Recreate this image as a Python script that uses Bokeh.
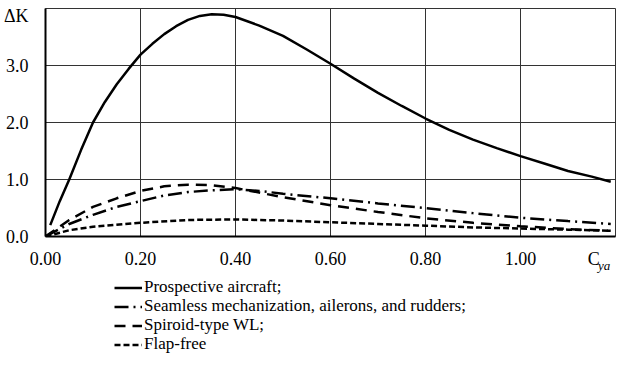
from bokeh.plotting import figure
from bokeh.layouts import column
from bokeh.models import Legend, LegendItem, FixedTicker, Range1d, LinearAxis
from bokeh.embed import file_html
from bokeh.resources import INLINE

# Data
x_prosp = [0.01, 0.03, 0.05, 0.075, 0.10, 0.125, 0.15, 0.175, 0.20, 0.225, 0.25, 0.275, 0.30, 0.325, 0.35,
           0.375, 0.40, 0.45, 0.50, 0.55, 0.60, 0.65, 0.70, 0.75, 0.80, 0.85, 0.90, 0.95, 1.00, 1.05, 1.10, 1.15, 1.19]
y_prosp = [0.20, 0.62, 1.00, 1.52, 2.00, 2.36, 2.67, 2.94, 3.19, 3.38, 3.55, 3.69, 3.80, 3.87, 3.90,
           3.89, 3.85, 3.70, 3.52, 3.28, 3.03, 2.77, 2.52, 2.29, 2.07, 1.87, 1.70, 1.55, 1.41, 1.28, 1.15, 1.05, 0.96]

x_seam = [0.00, 0.05, 0.10, 0.15, 0.20, 0.25, 0.30, 0.35, 0.40, 0.45, 0.50, 0.60, 0.70, 0.80, 0.90, 1.00, 1.10, 1.19]
y_seam = [0.00, 0.22, 0.38, 0.52, 0.62, 0.72, 0.78, 0.81, 0.83, 0.80, 0.75, 0.67, 0.58, 0.50, 0.41, 0.33, 0.27, 0.22]

x_spir = [0.00, 0.05, 0.10, 0.15, 0.20, 0.25, 0.30, 0.35, 0.40, 0.45, 0.50, 0.60, 0.70, 0.80, 0.90, 1.00, 1.10, 1.19]
y_spir = [0.00, 0.29, 0.52, 0.67, 0.80, 0.88, 0.91, 0.90, 0.85, 0.77, 0.69, 0.55, 0.43, 0.32, 0.24, 0.18, 0.13, 0.10]

x_flap = [0.00, 0.05, 0.10, 0.20, 0.30, 0.40, 0.50, 0.60, 0.70, 0.80, 0.90, 1.00, 1.10, 1.19]
y_flap = [0.00, 0.11, 0.17, 0.24, 0.29, 0.30, 0.28, 0.25, 0.22, 0.19, 0.16, 0.14, 0.12, 0.10]

x_ticks = [0.0, 0.2, 0.4, 0.6, 0.8, 1.0]
x_tick_labels = ["0.00", "0.20", "0.40", "0.60", "0.80", "1.00"]
x_title_main, x_title_sub = "C", "ya"
x_title_pos, x_sub_pos = 1.154, 1.176
y_ticks = [0, 1, 2, 3, 4]
y_tick_labels = ["0.0", "1.0", "2.0", "3.0", ""]
y_title = "ΔK"
y_title_pos = 3.86

names = ["Prospective aircraft;", "Seamless mechanization, ailerons, and rudders;",
         "Spiroid-type WL;", "Flap-free"]
dashes = ["solid", "14 5 2 5", "11 7", "6 3"]

FONT = "Liberation Serif"

p = figure(width=616, height=275, output_backend="svg", toolbar_location=None,
           x_range=Range1d(0, 1.2), y_range=Range1d(0, 4),
           min_border_left=45, min_border_right=1, min_border_top=8, min_border_bottom=39)
p.background_fill_color = "white"
p.border_fill_color = "white"
p.outline_line_color = "#333333"
p.outline_line_width = 1

sub_axis = LinearAxis()
p.add_layout(sub_axis, "below")

for ax in (p.xaxis[0], p.yaxis[0], sub_axis):
    ax.axis_line_color = "black"
    ax.axis_line_width = 2
    ax.major_tick_in = 0
    ax.major_tick_out = 0
    ax.minor_tick_in = 0
    ax.minor_tick_out = 0
    ax.major_label_text_font = FONT
    ax.major_label_text_font_size = "18px"
    ax.major_label_text_color = "black"

# x axis: numeric ticks plus the "C" of C_ya
p.xaxis[0].ticker = FixedTicker(ticks=x_ticks + [x_title_pos])
over = {t: l for t, l in zip(x_ticks, x_tick_labels)}
over[x_title_pos] = x_title_main
p.xaxis[0].major_label_overrides = over
p.xaxis[0].major_label_standoff = 12

# second (line-less) axis carries the italic subscript "ya", pulled up beside the "C"
sub_axis.axis_line_color = None
sub_axis.ticker = FixedTicker(ticks=[x_sub_pos])
sub_axis.major_label_overrides = {x_sub_pos: x_title_sub}
sub_axis.major_label_text_font_size = "13px"
sub_axis.major_label_text_font_style = "italic"
sub_axis.major_label_standoff = -14

# y axis: numeric ticks plus the "ΔK" title just below the top
p.yaxis.ticker = FixedTicker(ticks=y_ticks + [y_title_pos])
yover = {t: l for t, l in zip(y_ticks, y_tick_labels)}
yover[y_title_pos] = y_title
p.yaxis.major_label_overrides = yover
p.yaxis.major_label_standoff = 17

p.xgrid.ticker = FixedTicker(ticks=x_ticks)
p.ygrid.ticker = FixedTicker(ticks=y_ticks)
for g in (p.xgrid[0], p.ygrid[0]):
    g.grid_line_color = "#333333"
    g.grid_line_width = 1

series = [(x_prosp, y_prosp), (x_seam, y_seam), (x_spir, y_spir), (x_flap, y_flap)]
for (xs, ys), d in zip(series, dashes):
    p.line(xs, ys, line_color="black", line_width=2.5, line_dash=d)

# legend strip below the chart (its own figure so nothing is clipped);
# the same series are drawn there out of view, only to feed the legend glyphs
p2 = figure(width=616, height=79, output_backend="svg", toolbar_location=None,
            x_range=Range1d(0, 1), y_range=Range1d(-10, -9),
            x_axis_location=None, y_axis_location=None,
            min_border_left=0, min_border_right=0, min_border_top=0, min_border_bottom=0)
p2.grid.visible = False
p2.outline_line_color = None
p2.background_fill_color = "white"
p2.border_fill_color = "white"

row_bottoms = [57, 38, 19, 0]
for n, (xs, ys), d, yb in zip(names, series, dashes, row_bottoms):
    r = p2.line(xs, ys, line_color="black", line_width=2.5, line_dash=d)
    lg = Legend(items=[LegendItem(label=n, renderers=[r])], location=(69, yb))
    lg.label_text_font = FONT
    lg.label_text_font_size = "17px"
    lg.label_text_color = "black"
    lg.glyph_width = 28
    lg.glyph_height = 17
    lg.label_height = 17
    lg.label_standoff = 2
    lg.spacing = 0
    lg.padding = 0
    lg.margin = 0
    lg.border_line_color = None
    lg.background_fill_alpha = 0
    p2.add_layout(lg, "center")

open("out.html", "w").write(file_html(column(p, p2, spacing=0), INLINE))
